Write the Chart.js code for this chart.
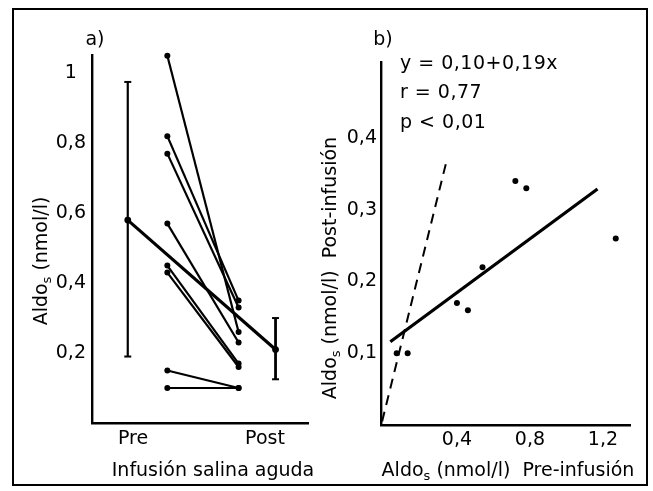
<!DOCTYPE html>
<html>
<head>
<meta charset="UTF-8">
<script src="https://cdn.jsdelivr.net/npm/chart.js@4.4.1/dist/chart.umd.min.js"></script>
<title>Aldosterona pre / post infusión</title>
<style>
	body { margin: 0; background: #fff; }
	#marco { position: absolute; left: 12px; top: 8px; width: 636px; height: 478px; box-sizing: border-box; border: 2px solid #000; }
	#chartA { position: absolute; left: 14px; top: 10px; }
	#chartB { position: absolute; left: 316px; top: 10px; }
</style>
</head>
<body>
	<div id="marco"></div>
	<canvas id="chartA" width="302" height="478"></canvas>
	<canvas id="chartB" width="330" height="478"></canvas>
	<script>
		// a) valores individuales antes y después de la infusión
		var categorias = ['Pre', 'Post'];
		var preValores = [1.05, 0.82, 0.77, 0.57, 0.45, 0.43, 0.15, 0.10];
		var postValores = [0.26, 0.35, 0.33, 0.23, 0.17, 0.16, 0.10, 0.10];
		var medias = [0.58, 0.21];
		var errorAlto = [0.975, 0.30];
		var errorBajo = [0.19, 0.125];
		var yTicksA = [0.2, 0.4, 0.6, 0.8, 1];
		var yLabelsA = ['0,2', '0,4', '0,6', '0,8', '1'];

		// b) correlación pre vs post
		var preB = [0.07, 0.13, 0.40, 0.46, 0.54, 0.72, 0.78, 1.27];
		var postB = [0.10, 0.10, 0.17, 0.16, 0.22, 0.34, 0.33, 0.26];
		var rectaX = [0.035, 1.17];
		var rectaY = [0.116, 0.329];
		var identX = [-0.01, 0.345];
		var identY = [0.005, 0.37];
		var xTicksB = [0.4, 0.8, 1.2];
		var xLabelsB = ['0,4', '0,8', '1,2'];
		var yTicksB = [0.1, 0.2, 0.3, 0.4];
		var yLabelsB = ['0,1', '0,2', '0,3', '0,4'];
		var ecuacion = ['y = 0,10+0,19x', 'r = 0,77', 'p < 0,01'];

		// posición de cada grupo en el eje x de a) (Pre = 1, Post = 2)
		var xMediaPre = 0.96, xPre = 1.26, xPost = 1.80, xMediaPost = 2.08;

		var FUENTE = '"DejaVu Sans", sans-serif';
		Chart.defaults.font.family = FUENTE;
		Chart.defaults.font.size = 19;
		Chart.defaults.color = '#000';

		// texto "Aldo" con subíndice s
		function textoAldo(ctx, x, y, resto, rotar) {
			ctx.save();
			ctx.translate(x, y);
			if (rotar) ctx.rotate(-Math.PI / 2);
			var f1 = '19px ' + FUENTE, f2 = '13px ' + FUENTE;
			ctx.font = f1;
			var w1 = ctx.measureText('Aldo').width;
			var w3 = ctx.measureText(resto).width;
			ctx.font = f2;
			var w2 = ctx.measureText('s').width;
			var x0 = -(w1 + w2 + w3) / 2;
			ctx.fillStyle = '#000';
			ctx.textAlign = 'left';
			ctx.textBaseline = 'alphabetic';
			ctx.font = f1;
			ctx.fillText('Aldo', x0, 7);
			ctx.font = f2;
			ctx.fillText('s', x0 + w1, 11);
			ctx.font = f1;
			ctx.fillText(resto, x0 + w1 + w2, 7);
			ctx.restore();
		}

		function texto(ctx, t, x, y, align) {
			ctx.save();
			ctx.font = '19px ' + FUENTE;
			ctx.fillStyle = '#000';
			ctx.textAlign = align || 'center';
			ctx.textBaseline = 'alphabetic';
			ctx.fillText(t, x, y);
			ctx.restore();
		}

		function ejeBase(min, max) {
			return {
				type: 'linear', min: min, max: max,
				grid: { display: false, drawTicks: false },
				border: { display: true, color: '#000', width: 2.4 }
			};
		}

		// ---------- a) ----------
		var datosA = [];
		for (var i = 0; i < preValores.length; i++) {
			datosA.push({
				data: [{ x: xPre, y: preValores[i] }, { x: xPost, y: postValores[i] }],
				showLine: true, clip: false, borderColor: '#000', borderWidth: 2.2,
				pointRadius: 3, pointBackgroundColor: '#000', pointBorderWidth: 0
			});
		}
		datosA.push({
			data: [{ x: xMediaPre, y: medias[0] }, { x: xMediaPost, y: medias[1] }],
			showLine: true, clip: false, borderColor: '#000', borderWidth: 3.2,
			pointRadius: 3.4, pointBackgroundColor: '#000', pointBorderWidth: 0
		});
		[xMediaPre, xMediaPost].forEach(function (xm, k) {
			datosA.push({
				data: [{ x: xm, y: errorAlto[k] }, { x: xm, y: errorBajo[k] }],
				showLine: true, clip: false, borderColor: '#000', borderWidth: k ? 2.8 : 2.2,
				pointStyle: 'line', pointRadius: 3.5, pointBorderWidth: 2, pointBorderColor: '#000'
			});
		});

		var xA = ejeBase(0.689, 2.326);
		xA.ticks = { padding: 5, autoSkip: false, callback: function (v, idx) { return categorias[idx]; } };
		xA.afterBuildTicks = function (s) { s.ticks = [1, 2].map(function (v) { return { value: v }; }); };
		xA.afterFit = function (s) { s.height = 65; };

		var yA = ejeBase(0, 1.052);
		yA.ticks = { padding: 6, crossAlign: 'center', autoSkip: false, callback: function (v, idx) { return yLabelsA[idx]; } };
		yA.afterBuildTicks = function (s) { s.ticks = yTicksA.map(function (v) { return { value: v }; }); };
		yA.afterFit = function (s) { s.width = 78; };

		new Chart(document.getElementById('chartA'), {
			type: 'scatter',
			data: { datasets: datosA },
			options: {
				responsive: false, animation: false,
				layout: { padding: { top: 45, right: 8, bottom: 0, left: 0 } },
				plugins: { legend: { display: false }, tooltip: { enabled: false } },
				scales: { x: xA, y: yA }
			},
			plugins: [{
				id: 'textosA',
				afterDraw: function (chart) {
					var ctx = chart.ctx;
					texto(ctx, 'a)', 81, 35);
					texto(ctx, 'Infusión salina aguda', 199, 466);
					textoAldo(ctx, 26, 251, ' (nmol/l)', true);
				}
			}]
		});

		// ---------- b) ----------
		var puntosB = preB.map(function (v, k) { return { x: v, y: postB[k] }; });

		var xB = ejeBase(-0.016, 1.348);
		xB.ticks = { padding: 4, autoSkip: false, callback: function (v, idx) { return xLabelsB[idx]; } };
		xB.afterBuildTicks = function (s) { s.ticks = xTicksB.map(function (v) { return { value: v }; }); };
		xB.afterFit = function (s) { s.height = 63; };

		var yB = ejeBase(0, 0.506);
		yB.ticks = { padding: 4, autoSkip: false, callback: function (v, idx) { return yLabelsB[idx]; } };
		yB.afterBuildTicks = function (s) { s.ticks = yTicksB.map(function (v) { return { value: v }; }); };
		yB.afterFit = function (s) { s.width = 65; };

		new Chart(document.getElementById('chartB'), {
			type: 'scatter',
			data: {
				datasets: [{
					data: puntosB,
					pointRadius: 3, pointBackgroundColor: '#000', pointBorderWidth: 0
				}, {
					data: rectaX.map(function (v, k) { return { x: v, y: rectaY[k] }; }),
					showLine: true, borderColor: '#000', borderWidth: 3.2, pointRadius: 0
				}, {
					data: identX.map(function (v, k) { return { x: v, y: identY[k] }; }),
					showLine: true, borderColor: '#000', borderWidth: 2, borderDash: [10, 7], pointRadius: 0
				}]
			},
			options: {
				responsive: false, animation: false,
				layout: { padding: { top: 52, right: 16, bottom: 0, left: 0 } },
				plugins: { legend: { display: false }, tooltip: { enabled: false } },
				scales: { x: xB, y: yB }
			},
			plugins: [{
				id: 'textosB',
				afterDraw: function (chart) {
					var ctx = chart.ctx;
					texto(ctx, 'b)', 67, 35);
					ctx.save();
					ctx.letterSpacing = '0.5px';
					texto(ctx, ecuacion[0], 84, 59, 'left');
					texto(ctx, ecuacion[1], 84, 88, 'left');
					texto(ctx, ecuacion[2], 84, 118, 'left');
					ctx.restore();
					textoAldo(ctx, 192, 459, ' (nmol/l)  Pre-infusión', false);
					textoAldo(ctx, 13, 258, ' (nmol/l)  Post-infusión', true);
				}
			}]
		});
	</script>
</body>
</html>
